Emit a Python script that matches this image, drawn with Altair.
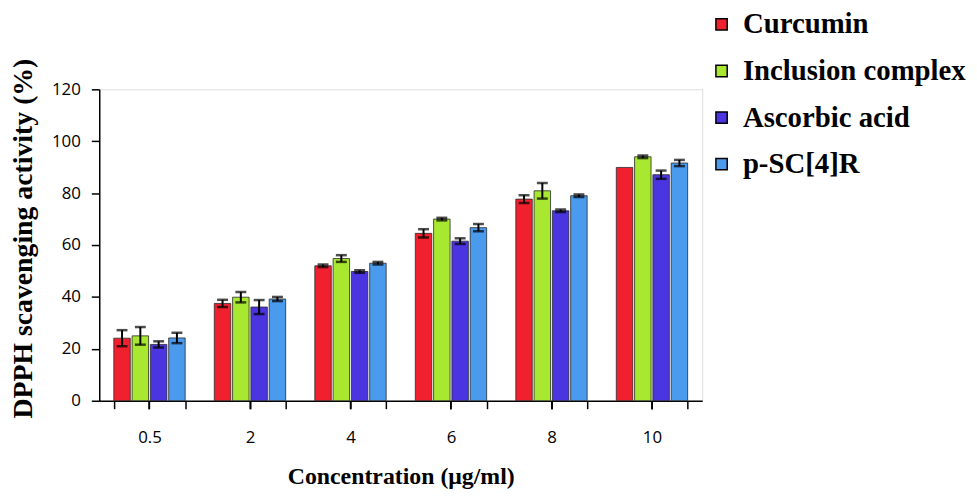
import altair as alt
import pandas as pd

concentrations = ["0.5", "2", "4", "6", "8", "10"]
series_names = ["Curcumin", "Inclusion complex", "Ascorbic acid", "p-SC[4]R"]
series_colors = ["#F0202E", "#A8E830", "#4A35E0", "#4A9AEE"]

curcumin = [24.1, 37.5, 52.0, 64.5, 77.7, 89.9]
curcumin_err = [3.1, 1.4, 0.5, 1.6, 1.5, 0.0]
inclusion = [25.0, 39.9, 54.8, 70.0, 80.9, 94.0]
inclusion_err = [3.4, 2.0, 1.3, 0.5, 3.0, 0.5]
ascorbic = [21.7, 36.1, 49.8, 61.5, 73.2, 87.1]
ascorbic_err = [1.2, 2.7, 0.5, 1.1, 0.5, 1.6]
psc = [24.2, 39.2, 53.0, 66.7, 79.0, 91.6]
psc_err = [2.0, 0.8, 0.5, 1.4, 0.5, 1.2]

values = [curcumin, inclusion, ascorbic, psc]
errors = [curcumin_err, inclusion_err, ascorbic_err, psc_err]

rows = []
for i, c in enumerate(concentrations):
    for s, vals, errs in zip(series_names, values, errors):
        rows.append({"conc": c, "series": s, "value": vals[i], "err": errs[i],
                     "lo": vals[i] - errs[i], "hi": vals[i] + errs[i]})
df = pd.DataFrame(rows)

serif = "Liberation Serif"
sans = "Open Sans"

xscale = alt.Scale(paddingInner=0.29, paddingOuter=0.145)
yscale = alt.Scale(domain=[0, 120])
xoff = alt.XOffset("series:N", sort=series_names, scale=alt.Scale(paddingInner=0.1))

x_main = alt.X("conc:N", sort=concentrations, scale=xscale,
               axis=alt.Axis(title="Concentration (μg/ml)", orient="bottom",
                             titleFont=serif, titleFontSize=24, titleFontWeight="bold",
                             titleColor="black", titlePadding=19,
                             labelFont=sans, labelFontSize=17, labelColor="black",
                             labelAngle=0, labelPadding=21,
                             tickBand="extent", tickSize=8, tickColor="black",
                             tickWidth=1.5, domainColor="black", domainWidth=1.5))

x_second = alt.X("conc:N", sort=concentrations, scale=xscale,
                 axis=alt.Axis(title=None, orient="bottom", labels=False, domain=False,
                               tickSize=8, tickColor="black", tickWidth=1.5))

y_axis = alt.Axis(title="DPPH scavenging activity (%)", values=[0, 20, 40, 60, 80, 100, 120],
                  grid=False, titleFont=serif, titleFontSize=28, titleFontWeight="bold",
                  titleColor="black", titleAngle=270, titleBaseline="middle",
                  titleX=-76, titleY=150,
                  labelFont=sans, labelFontSize=17, labelColor="black", labelPadding=11,
                  tickSize=8, tickColor="black", tickWidth=1.5,
                  domainColor="black", domainWidth=1.5)

bars = alt.Chart(df).mark_bar(stroke="#2a2a2a", strokeWidth=0.8).encode(
    x=x_main,
    xOffset=xoff,
    y=alt.Y("value:Q", scale=yscale, axis=y_axis),
    color=alt.Color("series:N", sort=series_names,
                    scale=alt.Scale(domain=series_names, range=series_colors),
                    legend=alt.Legend(title=None, orient="none", legendX=613, legendY=-80,
                                      labelFont=serif, labelFontSize=29, labelFontWeight="bold",
                                      labelColor="black", symbolType="square", symbolSize=130,
                                      symbolStrokeColor="black", symbolStrokeWidth=1.5,
                                      labelOffset=7, rowPadding=17, padding=0,
                                      labelLimit=400)),
)

err_base = alt.Chart(df).transform_filter("datum.err > 0")

err_rule = err_base.mark_rule(color="black", strokeWidth=2).encode(
    x=x_second, xOffset=xoff,
    y=alt.Y("lo:Q", scale=yscale, axis=y_axis),
    y2="hi:Q",
)
cap_lo = err_base.mark_tick(color="black", thickness=2.5, size=11).encode(
    x=x_second, xOffset=xoff,
    y=alt.Y("lo:Q", scale=yscale, axis=y_axis),
)
cap_hi = err_base.mark_tick(color="black", thickness=2.5, size=11).encode(
    x=x_second, xOffset=xoff,
    y=alt.Y("hi:Q", scale=yscale, axis=y_axis),
)

chart = alt.layer(bars, err_rule, cap_lo, cap_hi).resolve_axis(x="independent").properties(
    width=608, height=314,
    autosize=alt.AutoSizeParams(type="none"),
    padding={"left": 92, "top": 80, "right": 269, "bottom": 89},
).configure_view(strokeWidth=0).configure(background="white")

chart.save("out.html", embed_options={"renderer": "svg", "actions": False})
